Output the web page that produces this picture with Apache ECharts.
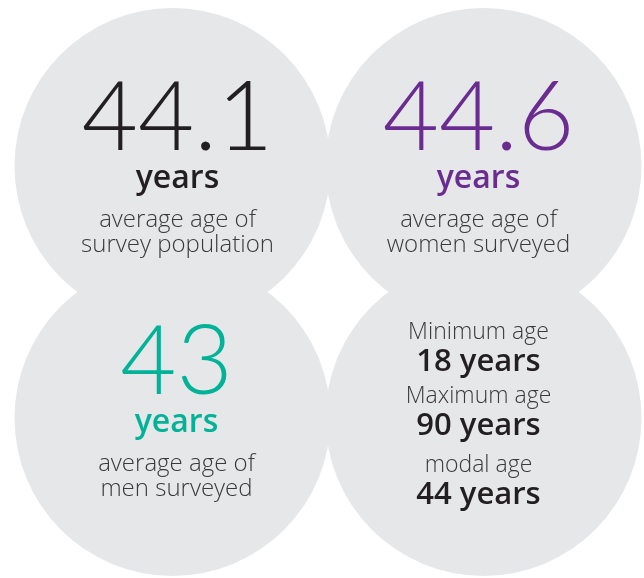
<!DOCTYPE html>
<html><head><meta charset="utf-8">
<script src="https://cdn.jsdelivr.net/npm/echarts@6/dist/echarts.min.js"></script>
<style>html,body{margin:0;padding:0;background:#fff}#c{width:644px;height:578px}</style>
</head><body><div id="c"></div>
<script>
const cols = ['left', 'right'];
const rows = ['top', 'bottom'];
const averages = [44.1, 44.6, 43];
const avgLabels = ['survey population', 'women surveyed', 'men surveyed'];
const statNames = ['Minimum age', 'Maximum age', 'modal age'];
const statValues = [18, 90, 44];

const NUMFONT = 'Lato', FONT = 'Open Sans';
const dark = '#231f20', purple = '#6b2c91', teal = '#00b398', grey = '#3a3a3a';

function avgRich(color) {
  return {
    num: {fontFamily: NUMFONT, fontWeight: 300, fontSize: 97, lineHeight: 64, color: color},
    yrs: {fontFamily: FONT, fontWeight: 600, fontSize: 32, lineHeight: 57, color: color},
    d: {fontFamily: FONT, fontWeight: 300, fontSize: 24, lineHeight: 25, color: grey}
  };
}
function avgText(i) {
  return '{num|' + averages[i] + '}\n{yrs|years}\n{d|average age of}\n{d|' + avgLabels[i] + '}';
}
const statRich = {
  n: {fontFamily: FONT, fontWeight: 300, fontSize: 23, lineHeight: 30, color: grey},
  v: {fontFamily: FONT, fontWeight: 600, fontSize: 31, lineHeight: 30, color: dark},
  g1: {fontSize: 2, lineHeight: 4},
  g2: {fontSize: 2, lineHeight: 9}
};
function statText() {
  return '{n|' + statNames[0] + '}\n{v|' + statValues[0] + ' years}\n{g1| }\n' +
         '{n|' + statNames[1] + '}\n{v|' + statValues[1] + ' years}\n{g2| }\n' +
         '{n|' + statNames[2] + '}\n{v|' + statValues[2] + ' years}';
}

const data = [
  {value: [cols[0], rows[0]], label: {formatter: avgText(0), rich: avgRich(dark), offset: [5, 6]}},
  {value: [cols[1], rows[0]], label: {formatter: avgText(1), rich: avgRich(purple), offset: [-5, 6]}},
  {value: [cols[0], rows[1]], label: {formatter: avgText(2), rich: avgRich(teal), offset: [4, -2]}},
  {value: [cols[1], rows[1]], label: {formatter: statText(), rich: statRich, offset: [-5, -4]}}
];

const chart = echarts.init(document.getElementById('c'));
chart.setOption({
  animation: false,
  grid: {left: 17, width: 622, top: 40, height: 504},
  xAxis: {type: 'category', data: cols, show: false},
  yAxis: {type: 'category', data: rows, inverse: true, show: false},
  series: [{
    type: 'scatter',
    symbol: 'circle',
    symbolSize: 316,
    itemStyle: {color: '#e6e7e8', opacity: 1},
    label: {show: true, position: 'inside', align: 'center', verticalAlign: 'middle'},
    data: data
  }]
});
</script></body></html>
